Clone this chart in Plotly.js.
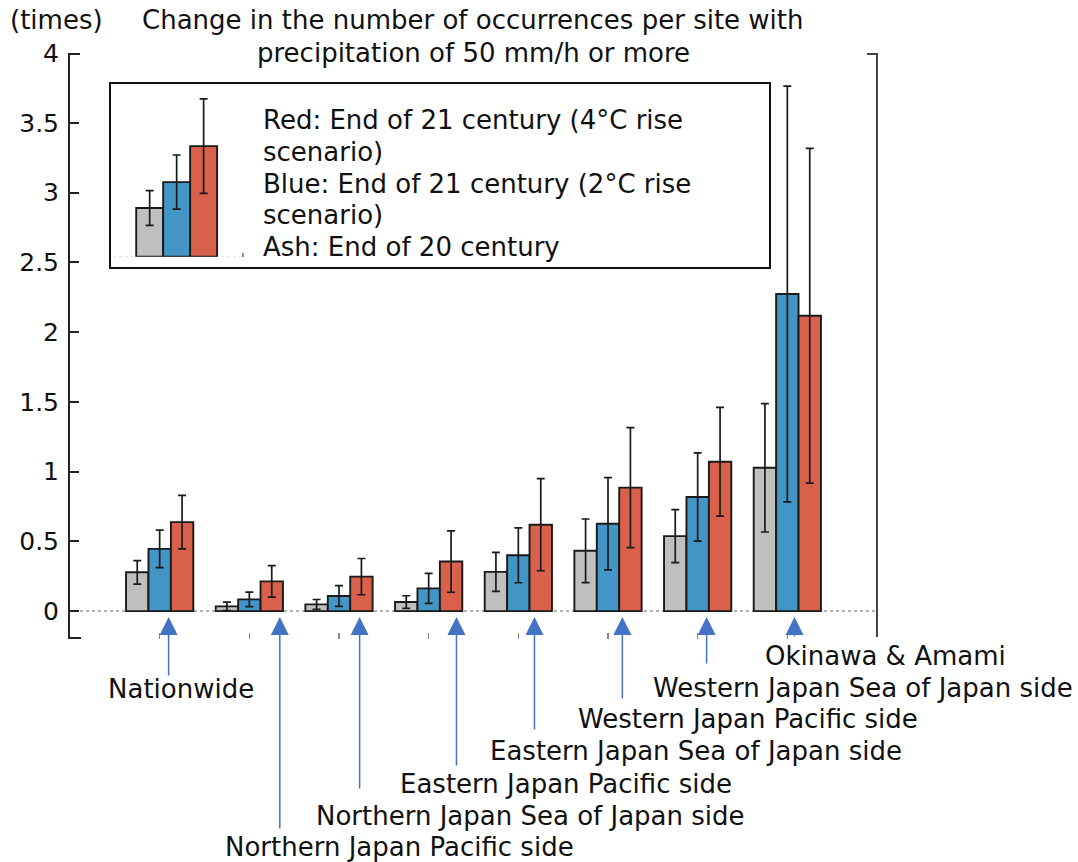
<!DOCTYPE html>
<html>
<head>
<meta charset="utf-8">
<script src="https://cdn.plot.ly/plotly-3.0.1.min.js"></script>
<style>html,body{margin:0;padding:0;background:#fff;}</style>
</head>
<body>
<div id="chart" style="width:1078px;height:862px;"></div>
<script>
// ---- data ----
const regions = ["Nationwide", "Northern Japan Pacific side", "Northern Japan Sea of Japan side",
  "Eastern Japan Pacific side", "Eastern Japan Sea of Japan side", "Western Japan Pacific side",
  "Western Japan Sea of Japan side", "Okinawa & Amami"];
const end20 = [0.278, 0.034, 0.048, 0.065, 0.281, 0.432, 0.537, 1.027];
const end20Err = [0.084, 0.030, 0.035, 0.045, 0.140, 0.228, 0.190, 0.460];
const end21_2C = [0.446, 0.084, 0.108, 0.163, 0.400, 0.626, 0.818, 2.273];
const end21_2CErr = [0.135, 0.052, 0.074, 0.108, 0.197, 0.330, 0.316, 1.490];
const end21_4C = [0.638, 0.213, 0.247, 0.355, 0.619, 0.885, 1.070, 2.117];
const end21_4CErr = [0.192, 0.113, 0.130, 0.220, 0.330, 0.430, 0.390, 1.200];
const insetValues = [0.35, 0.537, 0.796];
const insetErr = [0.125, 0.195, 0.34];
const yTickVals = [0, 0.5, 1, 1.5, 2, 2.5, 3, 3.5, 4];
const yTickText = ["0", "0.5", "1", "1.5", "2", "2.5", "3", "3.5", "4"];
const titleLines = ["Change in the number of occurrences per site with", "precipitation of 50 mm/h or more"];
const unitText = "(times)";
const legendLines = ["Red: End of 21 century (4°C rise", "scenario)", "Blue: End of 21 century (2°C rise",
  "scenario)", "Ash: End of 20 century"];

// ---- styles / layout positions ----
const FONT = "DejaVu Sans, Verdana, sans-serif";
const FS = 26;
const GRAY = "#bfbfbf", BLUE = "#4395c6", RED = "#d9614c", OUT = "#1a1a1a";
const W = 1078, H = 862, ML = 70, MR = 201, MT = 53, MB = 223;
const PW = W - ML - MR, PH = H - MT - MB;
const px2paperX = p => (p - ML) / PW;
const px2paperY = p => (H - MB - p) / PH;
const labelPos = [[181, 689], [399, 847], [530, 816], [566, 784], [696, 751], [748, 719], [863, 688], [885, 656]];
const arrowOffset = [0.10, 0.34, 0.23, 0.31, 0.18, 0.16, 0.10, 0.08];
const arrowTail = [677, 830, 790, 767, 731, 700, 665, 638];
const ARROW_TIP = 617;
const textFont = {family: FONT, size: FS, color: "#111"};

function barTrace(name, y, err, color) {
  return {
    type: "bar", name: name, x: regions, y: y,
    marker: {color: color, line: {color: OUT, width: 1.9}},
    error_y: {type: "data", array: err, visible: true, color: OUT, thickness: 1.7, width: 4},
    hoverinfo: "skip", xaxis: "x", yaxis: "y"
  };
}
const traces = [
  barTrace("End of 20 century", end20, end20Err, GRAY),
  barTrace("End of 21 century (2°C)", end21_2C, end21_2CErr, BLUE),
  barTrace("End of 21 century (4°C)", end21_4C, end21_4CErr, RED),
  {
    type: "bar", x: [0, 1, 2], y: insetValues, width: 1,
    marker: {color: [GRAY, BLUE, RED], line: {color: OUT, width: 1.9}},
    error_y: {type: "data", array: insetErr, visible: true, color: OUT, thickness: 1.7, width: 4},
    xaxis: "x2", yaxis: "y2", hoverinfo: "skip", showlegend: false
  }
];

const annotations = [];
const txt = (text, xpx, ypx, xanchor) => ({
  text: text, xref: "paper", yref: "paper", x: px2paperX(xpx), y: px2paperY(ypx),
  xanchor: xanchor, yanchor: "middle", showarrow: false, font: textFont
});
annotations.push(txt(unitText, 8, 20, "left"));
annotations.push(txt(titleLines[0], 473, 20, "center"));
annotations.push(txt(titleLines[1], 473, 53, "center"));
legendLines.forEach((l, i) => annotations.push(txt(l, 261, 120 + i * 31.75, "left")));
regions.forEach((r, i) => {
  annotations.push(txt(r, labelPos[i][0], labelPos[i][1], "center"));
  annotations.push({
    text: "", xref: "x", yref: "paper", x: i + arrowOffset[i], y: px2paperY(ARROW_TIP),
    showarrow: true, ax: 0, ay: arrowTail[i] - ARROW_TIP, axref: "pixel", ayref: "pixel",
    arrowhead: 2, arrowsize: 2.4, arrowwidth: 1.5, arrowcolor: "#4472c4", standoff: 0
  });
});

const P = (x, y) => px2paperX(x).toFixed(5) + "," + px2paperY(y).toFixed(5);
const layout = {
  width: W, height: H,
  margin: {l: ML, r: MR, t: MT, b: MB, pad: 0},
  paper_bgcolor: "#fff", plot_bgcolor: "#fff",
  showlegend: false,
  barmode: "group", bargap: 0.25, bargroupgap: 0,
  font: textFont,
  xaxis: {
    type: "category", range: [-1, 8], showticklabels: false, ticks: "inside", ticklen: 6,
    tickwidth: 1.5, tickcolor: "#888", showline: false, showgrid: false, zeroline: false, fixedrange: true
  },
  yaxis: {
    range: [-0.2, 4], tickmode: "array", tickvals: yTickVals, ticktext: yTickText,
    ticks: "inside", ticklen: 9, tickwidth: 2, tickcolor: "#222", showline: true, linewidth: 2,
    linecolor: "#222", showgrid: false, zeroline: false, ticklabelstandoff: 4,
    tickfont: {family: FONT, size: 25, color: "#111"}, fixedrange: true
  },
  xaxis2: {domain: [px2paperX(113), px2paperX(243)], range: [-1.36, 3.46], anchor: "y2", visible: false},
  yaxis2: {domain: [px2paperY(256.7), px2paperY(83)], range: [0, 1.25], anchor: "x2", visible: false},
  shapes: [
    {type: "line", xref: "paper", yref: "y", x0: px2paperX(74), x1: 1, y0: 0, y1: 0,
     line: {color: "#999", width: 1.5, dash: "dot"}, layer: "below"},
    {type: "line", xref: "x2 domain", yref: "y2", x0: 0, x1: 1, y0: 0, y1: 0,
     line: {color: "#888", width: 1.5, dash: "dot"}, layer: "below"},
    {type: "path", xref: "paper", yref: "paper", path: "M" + P(243, 253) + "L" + P(243, 257),
     line: {color: "#666", width: 1.5}},
    {type: "rect", xref: "paper", yref: "paper", x0: px2paperX(110), x1: px2paperX(770),
     y0: px2paperY(268), y1: px2paperY(83), line: {color: "#111", width: 2}, fillcolor: "rgba(0,0,0,0)"},
    // left axis end stubs
    {type: "path", xref: "paper", yref: "paper", path: "M" + P(70, 54) + "L" + P(80, 54),
     line: {color: "#222", width: 2}},
    {type: "path", xref: "paper", yref: "paper", path: "M" + P(70, 638) + "L" + P(81, 638),
     line: {color: "#222", width: 2}},
    // right frame line with top stub
    {type: "path", xref: "paper", yref: "paper", path: "M" + P(867, 54) + "L" + P(877, 54) + "L" + P(877, 637),
     line: {color: "#444", width: 2}}
  ],
  annotations: annotations
};

Plotly.newPlot("chart", traces, layout, {displayModeBar: false, staticPlot: true});
</script>
</body>
</html>
